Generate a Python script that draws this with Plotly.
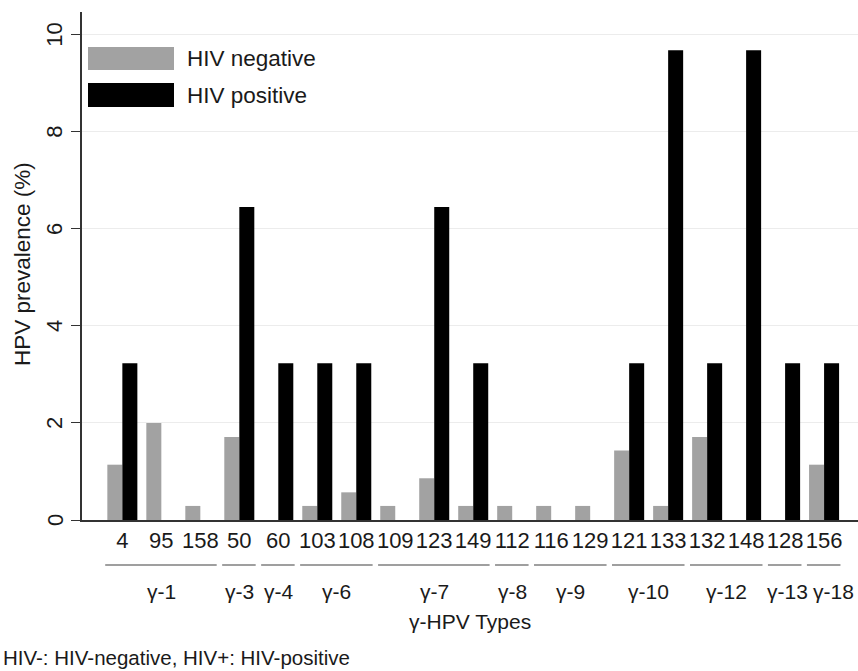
import plotly.graph_objects as go

# ---- data ----
hpv_types = ["4", "95", "158", "50", "60", "103", "108", "109", "123", "149",
             "112", "116", "129", "121", "133", "132", "148", "128", "156"]
hiv_negative = [1.14, 2.00, 0.29, 1.71, 0.00, 0.29, 0.57, 0.29, 0.86, 0.29,
                0.29, 0.29, 0.29, 1.43, 0.29, 1.71, 0.00, 0.00, 1.14]
hiv_positive = [3.23, 0.00, 0.00, 6.45, 3.23, 3.23, 3.23, 0.00, 6.45, 3.23,
                0.00, 0.00, 0.00, 3.23, 9.68, 3.23, 9.68, 3.23, 3.23]
species_names = ["γ-1", "γ-3", "γ-4", "γ-6", "γ-7", "γ-8", "γ-9", "γ-10", "γ-12", "γ-13", "γ-18"]
species_members = [["4", "95", "158"], ["50"], ["60"], ["103", "108"], ["109", "123", "149"],
                   ["112"], ["116", "129"], ["121", "133"], ["132", "148"], ["128"], ["156"]]
y_ticks = [0, 2, 4, 6, 8, 10]

FONT = "Liberation Sans, Arial, sans-serif"
GRAY = "#a2a2a2"
TXT = "#1a1a1a"

fig = go.Figure()
fig.add_trace(go.Bar(x=hpv_types, y=hiv_negative, name="HIV negative",
                     marker=dict(color=GRAY, line=dict(width=0)), showlegend=False))
fig.add_trace(go.Bar(x=hpv_types, y=hiv_positive, name="HIV positive",
                     marker=dict(color="#000000", line=dict(width=0)), showlegend=False))

# the page's body margin is removed (post_script), so figure origin = window origin
W, H = 858, 671
L, T, R = 82, 12, 0
B = H - T - 508                     # plot area bottom at pixel 520
pw, ph = W - L - R, H - T - B

def py(p):  # pixel y -> paper y
    return (520 - p) / ph

def px(p):  # pixel x -> paper x
    return (p - L) / pw

shapes = []
annotations = []
# species group lines and labels
n_groups = len(species_names)
for gi, (name, members) in enumerate(zip(species_names, species_members)):
    idx = [hpv_types.index(m) for m in members]
    x0, x1 = min(idx) - 0.44, max(idx) + 0.42
    shapes.append(dict(type="line", xref="x", yref="paper", x0=x0, x1=x1,
                       y0=py(565), y1=py(565), line=dict(color="#7f7f7f", width=1.5)))
    annotations.append(dict(text=name, xref="x", yref="paper",
                            x=(min(idx) + max(idx)) / 2, y=py(591),
                            xshift=9 if gi == n_groups - 1 else (2 if gi == n_groups - 2 else 0),
                            showarrow=False, font=dict(size=21, color=TXT, family=FONT),
                            xanchor="center", yanchor="middle"))

# rotated y tick labels
for v in y_ticks:
    annotations.append(dict(text=str(v), xref="paper", yref="y", x=px(55), y=v,
                            textangle=-90, showarrow=False,
                            font=dict(size=22, color=TXT, family=FONT),
                            xanchor="center", yanchor="middle"))
annotations.append(dict(text="HPV prevalence (%)", xref="paper", yref="paper",
                        x=px(22), y=py(264), textangle=-90, showarrow=False,
                        font=dict(size=22.5, color=TXT, family=FONT),
                        xanchor="center", yanchor="middle"))

annotations.append(dict(text="γ-HPV Types", xref="paper", yref="paper",
                        x=px(470), y=py(621), showarrow=False,
                        font=dict(size=21, color=TXT, family=FONT),
                        xanchor="center", yanchor="middle"))
annotations.append(dict(text="HIV-: HIV-negative, HIV+: HIV-positive", xref="paper", yref="paper",
                        x=px(1), y=py(657), showarrow=False,
                        font=dict(size=20.5, color=TXT, family=FONT),
                        xanchor="left", yanchor="middle"))

# legend drawn as swatches + text
for (y0p, y1p, col, label) in [(47, 70, GRAY, "HIV negative"), (83, 107, "#000000", "HIV positive")]:
    shapes.append(dict(type="rect", xref="paper", yref="paper",
                       x0=px(88), x1=px(174), y0=py(y1p), y1=py(y0p),
                       fillcolor=col, line=dict(width=0)))
    annotations.append(dict(text=label, xref="paper", yref="paper",
                            x=px(185), y=py((y0p + y1p) / 2), showarrow=False,
                            font=dict(size=22.5, color=TXT, family=FONT),
                            xanchor="left", yanchor="middle"))

fig.update_layout(
    width=W, height=H,
    margin=dict(l=L, r=R, t=T, b=B, pad=0),
    paper_bgcolor="white", plot_bgcolor="white",
    barmode="group", bargap=0.23, bargroupgap=0,
    font=dict(family=FONT, color=TXT),
    shapes=shapes, annotations=annotations,
    xaxis=dict(type="category", range=[-1.035, 18.87], showgrid=False,
               showline=True, linecolor="#333333", linewidth=2,
               ticks="", tickfont=dict(size=22, family=FONT, color=TXT),
               zeroline=False, fixedrange=True),
    yaxis=dict(range=[0, 10.47], tickvals=y_ticks, showticklabels=False,
               ticks="outside", ticklen=9, tickcolor="#333333", tickwidth=1.2,
               showline=True, linecolor="#333333", linewidth=1.5,
               showgrid=True, gridcolor="#ececec", gridwidth=1,
               zeroline=False, fixedrange=True),
)

fig.write_html("out.html", config={"displayModeBar": False},
               post_script="document.body.style.margin='0';document.body.style.overflow='hidden';")
